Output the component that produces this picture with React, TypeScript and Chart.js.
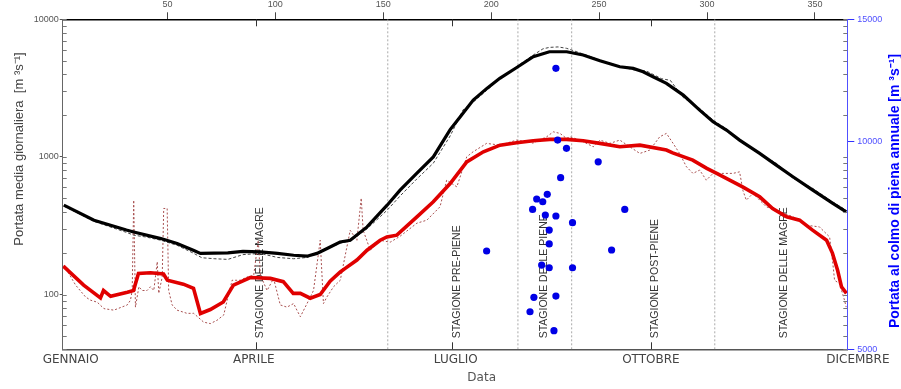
import React, { useEffect, useRef } from 'react';
import { Chart, registerables } from 'chart.js';

Chart.register(...registerables);

// ---------- axis / label data ----------
const xMin = 1.5;
const xMax = 365;
const yMin = 40;
const yMax = 10000;
const y2Min = 5000;
const y2Max = 15000;

const topTickValues = [50, 100, 150, 200, 250, 300, 350];
const monthNames = ['GENNAIO', 'APRILE', 'LUGLIO', 'OTTOBRE', 'DICEMBRE'];
const monthLabelDays = [5.2, 90, 183.6, 274, 369.9];
const monthTickDays = [91, 182, 274];

const seasonBoundaryDays = [152.1, 212.4, 237.3, 303.6];
const seasonLabels = [
  'STAGIONE DELLE MAGRE',
  'STAGIONE PRE-PIENE',
  'STAGIONE DELLE PIENE',
  'STAGIONE POST-PIENE',
  'STAGIONE DELLE MAGRE',
];
const seasonLabelDays = [91, 182, 222.6, 274, 333.6];

const leftTickValues = [
  40, 50, 60, 70, 80, 90, 100, 200, 300, 400, 500, 600, 700, 800, 900,
  1000, 2000, 3000, 4000, 5000, 6000, 7000, 8000, 9000, 10000,
];
const leftLabelValues = [100, 1000, 10000];
const rightTickValues = [5000, 6000, 7000, 8000, 9000, 10000, 11000, 12000, 13000, 14000, 15000];
const rightLabelValues = [5000, 10000, 15000];

const leftTitle = 'Portata media giornaliera  [m \u00B3s\u207B\u00B9]';
const rightTitle = 'Portata al colmo di piena annuale [m \u00B3s\u207B\u00B9]';
const bottomTitle = 'Data';

// ---------- series data ----------
// mean daily flow (smoothed, thick black)
const blackDays = [
  2, 16, 31, 34.4, 47, 54.5, 62, 65.3, 78, 85,
  93, 101, 108.5, 114.7, 119.3, 124, 130, 134.7, 142.5, 151.8,
  157.8, 165.5, 173.2, 181, 185.6, 191.7, 198, 204, 212.4, 219.5,
  227, 235, 242.6, 250.4, 259.6, 265.8, 270.4, 275, 281.2, 289,
  296.6, 302.8, 309, 315.1, 324.4, 332.1, 339.8, 349, 358.3, 364.5,
];
const blackValues = [
  446, 347, 294, 285, 255, 235, 210, 199, 201, 206,
  204, 199, 193, 190, 199, 216, 241, 248, 310, 446,
  573, 759, 1000, 1580, 1950, 2588, 3148, 3724, 4520, 5346,
  5810, 5810, 5500, 5000, 4520, 4400, 4159, 3824, 3424, 2815,
  2190, 1800, 1567, 1325, 1060, 872, 717, 573, 459, 399,
];

// mean daily flow (raw, thin dashed black)
const blackRawDays = [
  2, 16, 31, 34.4, 40, 47, 54.5, 62, 66, 72,
  78, 85, 93, 101, 108.5, 114.7, 119.3, 124, 130, 134.7,
  142.5, 151.8, 157.8, 165.5, 173.2, 181, 187, 191.7, 198, 204,
  212.4, 219.5, 224, 227, 231, 235, 242.6, 250.4, 259.6, 265.8,
  272, 279, 283, 289, 296.6, 302.8, 309, 315.1, 324.4, 332.1,
  339.8, 349, 358.3, 364.5,
];
const blackRawValues = [
  440, 340, 283, 270, 262, 248, 228, 200, 185, 182,
  180, 195, 199, 186, 182, 186, 198, 214, 236, 245,
  300, 410, 520, 690, 900, 1420, 2200, 2500, 3050, 3700,
  4600, 5500, 6100, 6250, 6300, 6150, 5600, 5050, 4550, 4300,
  4200, 3700, 3600, 2700, 2250, 1850, 1600, 1300, 1050, 900,
  700, 590, 470, 410,
];

// median daily flow (smoothed, thick red)
const redDays = [
  1.8, 11.2, 19, 20.4, 23.7, 31.5, 34.3, 36.6, 42.2, 48.2,
  50, 57.4, 62.1, 65.3, 69.9, 75.9, 80.6, 88.4, 97.7, 103.7,
  108.3, 111.6, 116.2, 120.8, 125.4, 130.1, 132.4, 137.8, 142.5, 148.6,
  151.7, 156.3, 165.6, 173.2, 181, 188.7, 196.4, 204.1, 211.8, 219.5,
  227.2, 234.9, 242.6, 250.4, 259.6, 268.9, 281.2, 284.1, 293.4, 299.9,
  304.5, 316.5, 324.4, 330.4, 336.9, 342.9, 348.9, 355.4, 358.1, 360.5,
  362.3, 364.6,
];
const redValues = [
  161, 117, 94.5, 107, 97, 104, 107, 142, 144, 141,
  127, 119, 111, 72.8, 77.8, 88.3, 117, 133, 131, 124,
  102, 102, 94, 100, 125, 146, 155, 178, 210, 248,
  262, 270, 367, 472, 641, 921, 1089, 1218, 1266, 1309,
  1341, 1341, 1309, 1254, 1185, 1218, 1121, 1071, 948, 825,
  759, 606, 513, 422, 367, 347, 294, 248, 200, 150,
  114, 102,
];

// median daily flow (raw, thin dotted red)
const redRawDays = [
  2.1, 7.5, 12.1, 14.4, 17.5, 20.6, 25.2, 31.4, 32.9, 33.7,
  34.4, 35.2, 36.8, 38.3, 40.6, 42.2, 43.7, 45.3, 46, 47.6,
  48.3, 49.9, 50.6, 52.2, 54.5, 59.1, 62.2, 66.8, 69.9, 73,
  76.1, 77.7, 80, 83.8, 86.9, 90, 92.1, 93.1, 96.2, 99.2,
  102.3, 105.4, 108.5, 110, 111.6, 114.7, 117.7, 120.8, 122.3, 123.9,
  127, 130.1, 134.7, 137.8, 139.8, 140.7, 144, 148.6, 153.2, 157.8,
  165.6, 170.2, 176.3, 179.4, 184.1, 188.7, 191.6, 197.9, 204.1, 211.8,
  219.4, 225.7, 228.8, 231.9, 234.9, 236.5, 241.1, 247.3, 250.4, 255,
  259.6, 264.2, 268.9, 273.5, 278.1, 281.2, 284.3, 287.3, 290.5, 293.5,
  296.6, 299.7, 302.8, 305.9, 312, 315.1, 316.6, 318.2, 321.3, 324.4,
  327.5, 332.1, 339.8, 346, 352.1, 356.8, 358.3, 359.1, 361.4, 363.7,
  364.5,
];
const redRawValues = [
  163, 117, 96, 91, 88, 79, 77, 84, 91, 107,
  485, 81, 114, 107, 107, 114, 107, 173, 102, 134,
  422, 422, 107, 84, 77, 73, 73, 63, 61.5, 65,
  71, 91, 127, 127, 134, 138, 248, 138, 107, 131,
  84, 81, 86, 77, 69, 86, 107, 248, 86, 96,
  114, 127, 293, 248, 502, 293, 210, 248, 240, 265,
  330, 347, 434, 678, 606, 1002, 1089, 1254, 1218, 1325,
  1260, 1400, 1522, 1482, 1363, 1400, 1325, 1185, 1325, 1254,
  1325, 1185, 1060, 1121, 1400, 1482, 1254, 1060, 847, 759,
  802, 678, 759, 759, 759, 779, 573, 485, 543, 485,
  434, 410, 367, 319, 310, 262, 168, 127, 120, 91,
  81,
];

// annual flood peaks (blue points, right axis)
const peakDays = [
  230.0, 230.8, 234.9, 249.6, 232.2, 226.0, 221.1, 223.9, 219.2, 225.1,
  230.0, 237.7, 226.9, 226.9, 197.9, 261.9, 255.8, 223.4, 226.9, 237.7,
  219.8, 230.0, 218.0, 229.1,
];
const peakValues = [
  12741, 10035, 9763, 9334, 8853, 8376, 8246, 8172, 7965, 7818,
  7793, 7621, 7437, 7100, 6936, 7965, 6959, 6619, 6560, 6560,
  5945, 5970, 5666, 5319,
];

const toPoints = (xs: number[], ys: number[]) => xs.map((x, i) => ({ x, y: ys[i] }));

const SANS = '"Liberation Sans", Arial, sans-serif';
const DEJAVU = '"DejaVu Sans", sans-serif';

const decorPlugin = {
  id: 'decor',
  beforeDatasetsDraw(chart: any) {
    const { ctx, chartArea: a, scales } = chart;
    const xs = scales.x;
    ctx.save();
    ctx.font = `10.5px ${SANS}`;
    ctx.fillStyle = '#333';
    seasonLabels.forEach((t, i) => {
      const px = xs.getPixelForValue(seasonLabelDays[i]);
      ctx.save();
      ctx.translate(px + 7.5, a.bottom - 11);
      ctx.rotate(-Math.PI / 2);
      ctx.textAlign = 'left';
      ctx.textBaseline = 'alphabetic';
      ctx.fillText(t, 0, 0);
      ctx.restore();
    });
    ctx.restore();
  },
  afterDraw(chart: any) {
    const { ctx, chartArea: a, scales } = chart;
    const xs = scales.x;
    const ys = scales.y;
    ctx.save();
    // inward month ticks on top and bottom
    ctx.strokeStyle = '#333';
    ctx.lineWidth = 1;
    monthTickDays.forEach((d) => {
      const px = Math.round(xs.getPixelForValue(d)) + 0.5;
      ctx.beginPath();
      ctx.moveTo(px, a.top);
      ctx.lineTo(px, a.top + 7);
      ctx.moveTo(px, a.bottom);
      ctx.lineTo(px, a.bottom - 7);
      ctx.stroke();
    });
    // inward minor ticks of the left axis, mirrored on the right
    ctx.strokeStyle = '#777';
    leftTickValues.forEach((v) => {
      const py = Math.round(ys.getPixelForValue(v)) + 0.5;
      ctx.beginPath();
      ctx.moveTo(a.left, py);
      ctx.lineTo(a.left + 4, py);
      ctx.moveTo(a.right - 4, py);
      ctx.lineTo(a.right, py);
      ctx.stroke();
    });
    // axis titles
    ctx.fillStyle = '#444';
    ctx.font = `13px ${SANS}`;
    ctx.save();
    ctx.translate(19, 149);
    ctx.rotate(-Math.PI / 2);
    ctx.textAlign = 'center';
    ctx.textBaseline = 'middle';
    ctx.fillText(leftTitle, 0, 0);
    ctx.restore();

    ctx.fillStyle = '#0000ff';
    ctx.font = `bold 14px ${SANS}`;
    ctx.save();
    ctx.translate(895, 191);
    ctx.rotate(-Math.PI / 2);
    ctx.textAlign = 'center';
    ctx.textBaseline = 'middle';
    ctx.fillText(rightTitle, 0, 0);
    ctx.restore();

    ctx.fillStyle = '#555';
    ctx.font = `12px ${DEJAVU}`;
    ctx.textAlign = 'center';
    ctx.textBaseline = 'middle';
    ctx.fillText(bottomTitle, 481.7, 378.3);
    ctx.restore();
  },
};

export default function App() {
  const ref = useRef<HTMLCanvasElement | null>(null);

  useEffect(() => {
    document.body.style.margin = '0';
    const canvas = ref.current;
    if (!canvas) return;

    const vlines = seasonBoundaryDays.map((d) => ({
      data: [
        { x: d, y: yMin },
        { x: d, y: yMax },
      ],
      borderColor: '#aaaaaa',
      borderWidth: 1,
      borderDash: [2, 2],
      pointRadius: 0,
      xAxisID: 'x',
      yAxisID: 'y',
    }));

    const chart = new Chart(canvas, {
      type: 'line',
      data: {
        datasets: [
          {
            data: toPoints(peakDays, peakValues),
            showLine: false,
            pointRadius: 3.6,
            pointBackgroundColor: '#0000e6',
            pointBorderWidth: 0,
            borderColor: '#0000e6',
            xAxisID: 'x',
            yAxisID: 'y2',
          },
          {
            data: toPoints(blackDays, blackValues),
            borderColor: '#000000',
            borderWidth: 3.2,
            pointRadius: 0,
            xAxisID: 'x',
            yAxisID: 'y',
          },
          {
            data: toPoints(redDays, redValues),
            borderColor: '#e00000',
            borderWidth: 3.6,
            pointRadius: 0,
            xAxisID: 'x',
            yAxisID: 'y',
          },
          {
            data: toPoints(blackRawDays, blackRawValues),
            borderColor: '#444444',
            borderWidth: 1,
            borderDash: [3, 2],
            pointRadius: 0,
            xAxisID: 'x',
            yAxisID: 'y',
          },
          {
            data: toPoints(redRawDays, redRawValues),
            borderColor: '#a85050',
            borderWidth: 1,
            borderDash: [2, 2],
            pointRadius: 0,
            xAxisID: 'x',
            yAxisID: 'y',
          },
          ...vlines,
        ] as any,
      },
      options: {
        responsive: false,
        animation: false,
        devicePixelRatio: 1,
        layout: { padding: 0 },
        plugins: {
          legend: { display: false },
          tooltip: { enabled: false },
          title: { display: false },
        },
        elements: { line: { tension: 0 }, point: { radius: 0 } },
        scales: {
          x: {
            type: 'linear',
            position: 'top',
            min: xMin,
            max: xMax,
            afterBuildTicks: (s: any) => {
              s.ticks = topTickValues.map((v) => ({ value: v }));
            },
            afterFit: (s: any) => {
              s.height = 19.3;
            },
            ticks: {
              autoSkip: false,
              maxRotation: 0,
              padding: 2,
              color: '#555',
              font: { family: SANS, size: 9 },
              callback: (v: any) => String(v),
            },
            grid: { drawOnChartArea: false, drawTicks: true, tickLength: 7, color: '#444' },
            border: { display: true, color: '#000', width: 1.5 },
          },
          xb: {
            type: 'linear',
            position: 'bottom',
            min: xMin,
            max: xMax,
            afterBuildTicks: (s: any) => {
              s.ticks = monthLabelDays.map((v) => ({ value: v }));
            },
            afterFit: (s: any) => {
              s.height = 389 - 349.3;
            },
            ticks: {
              autoSkip: false,
              maxRotation: 0,
              padding: 3,
              color: '#444',
              font: { family: DEJAVU, size: 12 },
              callback: (_v: any, i: number) => monthNames[i],
            },
            grid: { drawOnChartArea: false, drawTicks: false },
            border: { display: true, color: '#555', width: 1.5 },
          },
          y: {
            type: 'logarithmic',
            position: 'left',
            min: yMin,
            max: yMax,
            afterBuildTicks: (s: any) => {
              s.ticks = leftTickValues.map((v) => ({ value: v }));
            },
            afterFit: (s: any) => {
              s.width = 62.7;
            },
            ticks: {
              autoSkip: false,
              padding: 1,
              color: '#555',
              font: { family: SANS, size: 9 },
              callback: (v: any) => (leftLabelValues.includes(Number(v)) ? String(v) : ''),
            },
            grid: {
              drawOnChartArea: false,
              tickLength: 3,
              tickColor: (c: any) =>
                c.tick && leftLabelValues.includes(c.tick.value) ? '#555' : 'rgba(0,0,0,0)',
            },
            border: { display: true, color: '#666', width: 1 },
          },
          y2: {
            type: 'logarithmic',
            position: 'right',
            min: y2Min,
            max: y2Max,
            afterBuildTicks: (s: any) => {
              s.ticks = rightTickValues.map((v) => ({ value: v }));
            },
            afterFit: (s: any) => {
              s.width = 901 - 847.3;
            },
            ticks: {
              autoSkip: false,
              padding: 3,
              color: '#5050ff',
              font: { family: SANS, size: 9 },
              callback: (v: any) => (rightLabelValues.includes(Number(v)) ? String(v) : ''),
            },
            grid: {
              drawOnChartArea: false,
              tickLength: 7,
              tickColor: (c: any) =>
                c.tick && rightLabelValues.includes(c.tick.value) ? '#3030ff' : 'rgba(0,0,0,0)',
            },
            border: { display: true, color: '#5050ff', width: 1 },
          },
        },
      } as any,
      plugins: [decorPlugin],
    });

    return () => chart.destroy();
  }, []);

  return (
    <div style={{ width: 901, height: 389, position: 'relative' }}>
      <canvas ref={ref} width={901} height={389} style={{ display: 'block' }} />
    </div>
  );
}
